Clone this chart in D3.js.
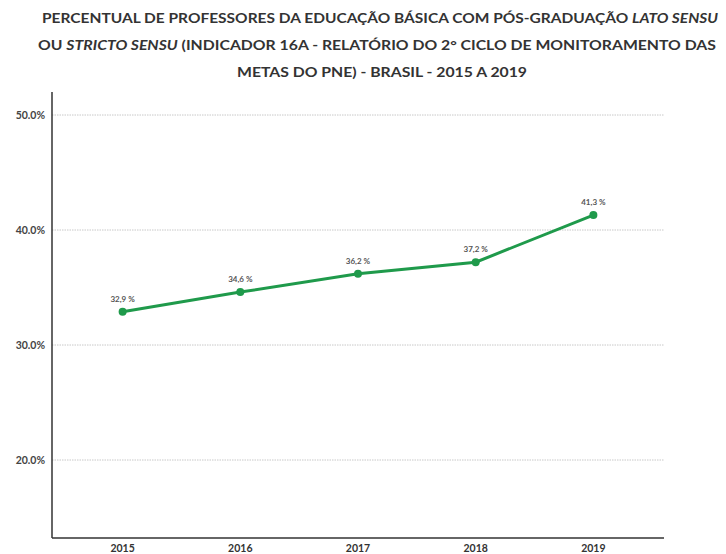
<!DOCTYPE html>
<html><head><meta charset="utf-8">
<script src="https://cdn.jsdelivr.net/npm/d3@7"></script>
<style>body{margin:0;background:#fff;} svg{display:block;font-family:Lato, sans-serif;}</style>
</head><body>
<svg id="c" width="726" height="554"></svg>
<script>
const years = ["2015","2016","2017","2018","2019"];
const values = [32.9, 34.6, 36.2, 37.2, 41.3];
const valueLabels = ["32,9 %","34,6 %","36,2 %","37,2 %","41,3 %"];
const yTicks = [20, 30, 40, 50];
const yTickLabels = ["20.0%","30.0%","40.0%","50.0%"];

const svg = d3.select("#c");
const left = 52, right = 664, bottom = 538;
const y = d3.scaleLinear().domain([20, 50]).range([460, 115]);
const x = d3.scalePoint().domain(years).range([left, right]).padding(0.6);

// Title
const title = svg.append("g").attr("fill", "#333").attr("font-size", 14).attr("font-weight", 700).attr("text-anchor", "start");
const t1 = title.append("text").attr("x", 42).attr("y", 23).attr("textLength", 676).attr("lengthAdjust", "spacingAndGlyphs");
t1.append("tspan").text("PERCENTUAL DE PROFESSORES DA EDUCAÇÃO BÁSICA COM PÓS-GRADUAÇÃO ");
t1.append("tspan").attr("font-style", "italic").text("LATO SENSU");
const t2 = title.append("text").attr("x", 38).attr("y", 50).attr("textLength", 678).attr("lengthAdjust", "spacingAndGlyphs");
t2.append("tspan").text("OU ");
t2.append("tspan").attr("font-style", "italic").text("STRICTO SENSU");
t2.append("tspan").text(" (INDICADOR 16A - RELATÓRIO DO 2° CICLO DE MONITORAMENTO DAS");
title.append("text").attr("x", 237).attr("y", 77).attr("textLength", 290).attr("lengthAdjust", "spacingAndGlyphs")
  .text("METAS DO PNE) - BRASIL - 2015 A 2019");

// Grid
svg.append("g").selectAll("line").data(yTicks).join("line")
  .attr("x1", left).attr("x2", right)
  .attr("y1", d => y(d)).attr("y2", d => y(d))
  .attr("stroke", "#c8c8c8").attr("stroke-width", 1).attr("stroke-dasharray", "1.5,1");

// Y axis labels
svg.append("g").selectAll("text").data(yTicks).join("text")
  .attr("x", left - 7).attr("y", d => y(d)).attr("dy", "0.35em")
  .attr("text-anchor", "end").attr("font-size", 10.5).attr("font-weight", 700).attr("fill", "#444")
  .text((d, i) => yTickLabels[i]);

// Axes lines
svg.append("line").attr("x1", left).attr("x2", left).attr("y1", 92).attr("y2", bottom).attr("stroke", "#333").attr("stroke-width", 1.5);
svg.append("line").attr("x1", left).attr("x2", right).attr("y1", bottom).attr("y2", bottom).attr("stroke", "#333").attr("stroke-width", 1.5);

// X labels
svg.append("g").selectAll("text").data(years).join("text")
  .attr("x", d => x(d)).attr("y", bottom + 14)
  .attr("text-anchor", "middle").attr("font-size", 10.5).attr("font-weight", 700).attr("fill", "#333")
  .text(d => d);

const data = years.map((yr, i) => ({yr, v: values[i], lab: valueLabels[i]}));
const green = "#1f9a4b";
svg.append("path").datum(data)
  .attr("d", d3.line().x(d => x(d.yr)).y(d => y(d.v)))
  .attr("fill", "none").attr("stroke", green).attr("stroke-width", 3);
svg.append("g").selectAll("circle").data(data).join("circle")
  .attr("cx", d => x(d.yr)).attr("cy", d => y(d.v)).attr("r", 4).attr("fill", green);
svg.append("g").selectAll("text").data(data).join("text")
  .attr("x", d => x(d.yr)).attr("y", d => y(d.v) - 10)
  .attr("text-anchor", "middle").attr("font-size", 8).attr("font-weight", 700).attr("fill", "#555")
  .text(d => d.lab);
</script>
</body></html>
